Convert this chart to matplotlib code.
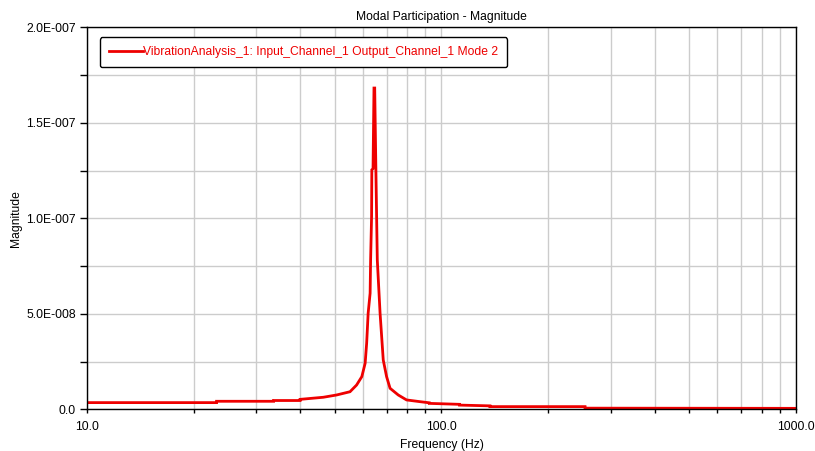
import matplotlib
matplotlib.use("Agg")
import matplotlib.pyplot as plt
from matplotlib.ticker import FixedLocator, LogLocator, NullFormatter

plt.rcParams['font.family'] = ['Liberation Sans', 'DejaVu Sans']

title = "Modal Participation - Magnitude"
series_name = "VibrationAnalysis_1: Input_Channel_1 Output_Channel_1 Mode 2"
xlabel = "Frequency (Hz)"
ylabel = "Magnitude"

freq = [10.0, 23.2, 23.2, 33.6, 33.6, 39.9, 39.9, 46.4, 50.6, 55.2, 57.6, 59.6,
        60.9, 61.5, 62.1, 62.9, 63.1, 63.5, 63.6, 64.1, 64.5, 64.8, 65.3, 65.9,
        67.1, 68.5, 70.0, 71.6, 75.5, 79.7, 86.9,
        92.4, 92.4, 112.4, 112.4, 137.0, 137.0, 254.0, 254.0, 1000.0]
mag = [3.5e-9, 3.5e-9, 4.2e-9, 4.2e-9, 4.6e-9, 4.6e-9, 5.2e-9, 6.3e-9, 7.5e-9, 9.2e-9,
       1.27e-8, 1.71e-8, 2.41e-8, 3.46e-8, 5.03e-8, 6.08e-8, 7.82e-8, 1.01e-7,
       1.254e-7, 1.26e-7, 1.682e-7, 1.682e-7, 1.254e-7, 7.82e-8, 5.03e-8, 2.58e-8,
       1.71e-8, 1.1e-8, 7.5e-9, 4.9e-9, 4.0e-9,
       3.4e-9, 3.1e-9, 2.6e-9, 2.2e-9, 1.8e-9, 1.4e-9, 1.4e-9, 0.6e-9, 0.5e-9]

y_ticks = [0.0, 5.0e-8, 1.0e-7, 1.5e-7, 2.0e-7]
y_tick_labels = ["0.0", "5.0E-008", "1.0E-007", "1.5E-007", "2.0E-007"]
x_ticks = [10.0, 100.0, 1000.0]
x_tick_labels = ["10.0", "100.0", "1000.0"]

fs = 8.7
fig = plt.figure(figsize=(8.15, 4.51), dpi=100)
ax = fig.add_axes([87/815, 1-409.3/451, (796-87)/815, (409.3-27.3)/451])

red = '#ee0000'
ax.plot(freq, mag, color=red, lw=2.0, label=series_name, solid_joinstyle='miter')

ax.set_xscale('log')
ax.set_xlim(10, 1000)
ax.set_ylim(0, 2.0e-7)

ax.xaxis.set_major_locator(FixedLocator(x_ticks))
ax.set_xticklabels(x_tick_labels)
ax.xaxis.set_minor_locator(LogLocator(base=10, subs=range(2, 10)))
ax.xaxis.set_minor_formatter(NullFormatter())

ax.yaxis.set_major_locator(FixedLocator(y_ticks))
ax.set_yticklabels(y_tick_labels)
ax.yaxis.set_minor_locator(FixedLocator([2.5e-8, 7.5e-8, 1.25e-7, 1.75e-7]))

ax.grid(True, which='both', color='#cccccc', lw=1.0)
ax.set_axisbelow(True)

ax.tick_params(axis='x', which='both', direction='out', length=3, width=1, pad=5.5, labelsize=fs)
ax.tick_params(axis='y', which='both', direction='out', length=5, width=1, pad=3, labelsize=fs)

for s in ax.spines.values():
    s.set_color('black')
    s.set_linewidth(1.0)

ax.set_title(title, fontsize=fs, pad=5)
ax.set_xlabel(xlabel, fontsize=fs, labelpad=4)
ax.set_ylabel(ylabel, fontsize=fs, labelpad=3)

leg = ax.legend(loc='upper left', bbox_to_anchor=(13/709, 1-10/382), fontsize=fs,
                frameon=True, fancybox=True, handlelength=2.8, handletextpad=0.0,
                borderpad=0.75, borderaxespad=0.0, labelcolor=red)
leg.get_frame().set_edgecolor('black')
leg.get_frame().set_linewidth(1.0)
leg.get_frame().set_alpha(1.0)

fig.savefig('out.png', dpi=100)
